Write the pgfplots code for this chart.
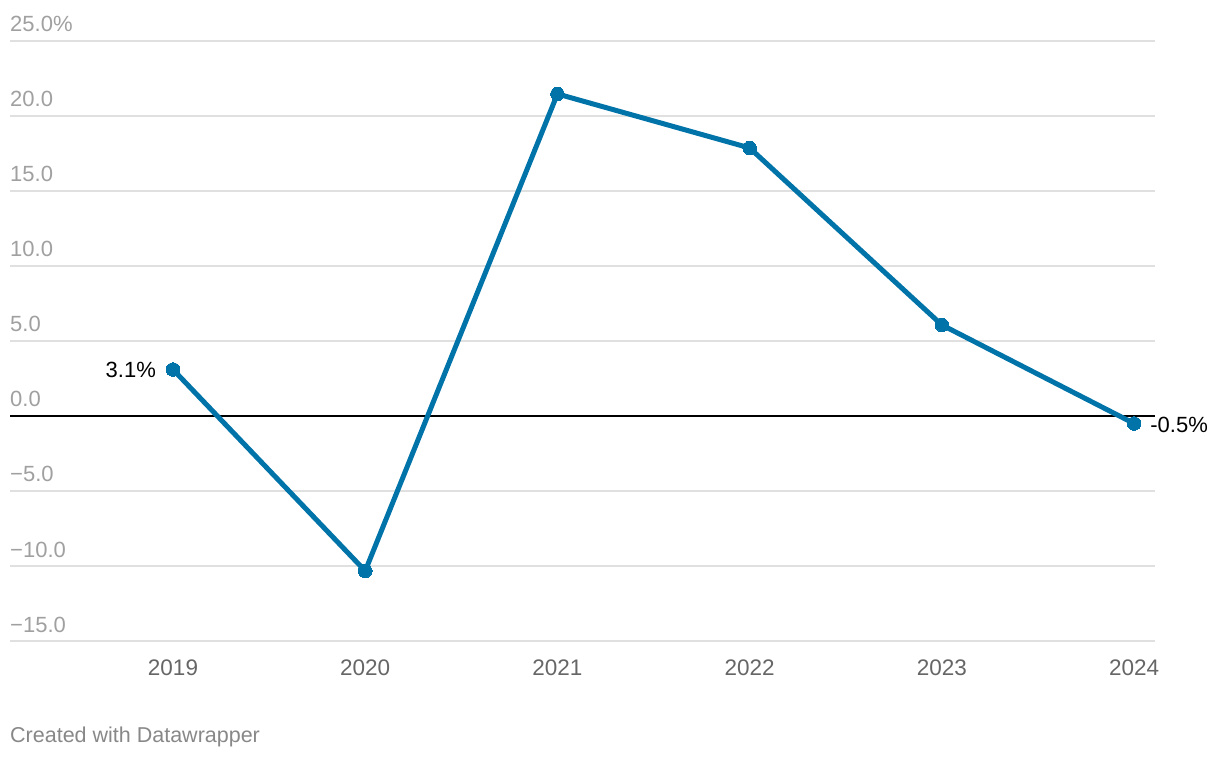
\documentclass[border=0pt]{standalone}
\usepackage{pgfplots}
\pgfplotsset{compat=1.18}
\usepackage{fontspec}
\setmainfont{Liberation Sans}
\definecolor{lineblue}{RGB}{0,115,168}
\definecolor{gridgray}{RGB}{224,224,224}
\definecolor{ytick}{RGB}{160,160,160}
\definecolor{xtick}{RGB}{102,102,102}
\definecolor{foot}{RGB}{136,136,136}
\begin{document}
\begin{tikzpicture}[x=1pt,y=1pt]
\path[use as bounding box] (0,0) rectangle (1220,758);
\begin{axis}[
  at={(10pt,117pt)}, anchor=south west,
  scale only axis, width=1145pt, height=600pt,
  xmin=2018.152, xmax=2024.109,
  ymin=-15, ymax=25,
  axis line style={draw=none},
  ytick={-15,-10,-5,0,5,10,15,20,25},
  yticklabels={−15.0,−10.0,−5.0,0.0,5.0,10.0,15.0,20.0,25.0\%},
  xtick={2019,2020,2021,2022,2023,2024},
  xticklabels={2019,2020,2021,2022,2023,2024},
  major tick length=0pt,
  ymajorgrids, grid style={gridgray, line width=1.5pt},
  yticklabel style={anchor=base west, inner sep=0pt, xshift=0pt, yshift=9pt, text=ytick, font=\fontsize{22}{26}\selectfont},
  xticklabel style={anchor=base, inner sep=0pt, yshift=-34pt, text=xtick, font=\fontsize{22.5}{26}\selectfont},
  clip=false,
]
\draw[black, line width=1.5pt] (axis cs:2018.152,0) -- (axis cs:2024.109,0);
\addplot[lineblue, line width=5pt, mark=*, mark size=6.8pt, mark options={line width=0pt, fill=lineblue}] coordinates {
  (2019,3.1) (2020,-10.33) (2021,21.47) (2022,17.87) (2023,6.07) (2024,-0.5)
};
\node[anchor=base east, inner sep=0pt, font=\fontsize{22}{26}\selectfont] at (axis cs:2018.912,2.55) {3.1\%};
\node[anchor=base west, inner sep=0pt, font=\fontsize{22}{26}\selectfont] at (axis cs:2024.084,-1.07) {-0.5\%};
\end{axis}
\node[anchor=base west, inner sep=0pt, text=foot, font=\fontsize{21.5}{25}\selectfont] at (10,16) {Created with Datawrapper};
\end{tikzpicture}
\end{document}
